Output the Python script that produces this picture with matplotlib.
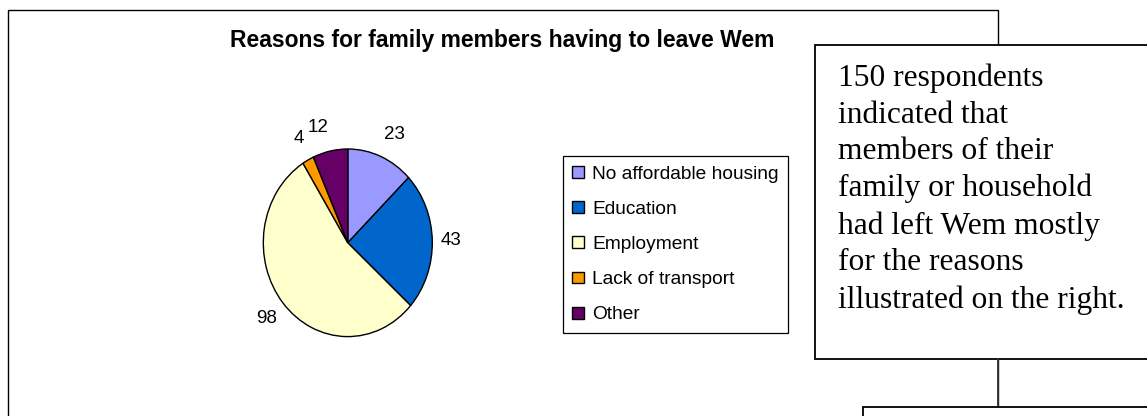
import numpy as np
import matplotlib
matplotlib.use("Agg")
import matplotlib.pyplot as plt
from matplotlib.patches import Rectangle
from matplotlib.lines import Line2D

# data
reasons = ["No affordable housing", "Education", "Employment", "Lack of transport", "Other"]
counts = [23, 43, 98, 4, 12]
colours = ["#9999FF", "#0066CC", "#FFFFCC", "#FF9900", "#660066"]

title = "Reasons for family members having to leave Wem"
note = ("150 respondents\nindicated that\nmembers of their\nfamily or household\n"
        "had left Wem mostly\nfor the reasons\nillustrated on the right.")

W, H = 1147, 416
fig = plt.figure(figsize=(W / 100, H / 100), dpi=100)
fig.patch.set_facecolor("white")

# page layer: boxes of the document, in pixel units
bg = fig.add_axes([0, 0, 1, 1])
bg.set_xlim(0, W)
bg.set_ylim(H, 0)
bg.axis("off")

# chart frame (bottom runs off the page)
bg.add_patch(Rectangle((7.5, 9.5), 990.5, 430, fill=False, edgecolor="black", lw=1.0, zorder=1))
# text box on the right, drawn over the frame
bg.add_patch(Rectangle((815, 45), 360, 314, facecolor="white", edgecolor="black", lw=1.3, zorder=2))
# connector and the next box below
bg.add_line(Line2D([998, 998], [359, 407], color="#333333", lw=1.3, zorder=2))
bg.add_patch(Rectangle((863, 407), 320, 40, facecolor="white", edgecolor="black", lw=1.3, zorder=2))

bg.text(838.3, 63.5, note, family="Liberation Serif", fontsize=22.7, va="top",
        ha="left", linespacing=1.345, zorder=3)

bg.text(502.5, 46.7, title, family="Liberation Sans", fontweight="bold", fontsize=16.5,
        ha="center", va="baseline", zorder=3)

# pie (elliptical, as in the original)
cx, cy, rx, ry = 347.8, 242.8, 84.5, 93.8
ax = fig.add_axes([(cx - rx) / W, (H - cy - ry) / H, 2 * rx / W, 2 * ry / H])
wedges, _ = ax.pie(counts, colors=colours, startangle=90, counterclock=False,
                   wedgeprops=dict(edgecolor="black", linewidth=1.0))
ax.set_aspect("auto")
ax.set_xlim(-1, 1)
ax.set_ylim(-1, 1)

for w, n in zip(wedges, counts):
    ang = np.deg2rad((w.theta1 + w.theta2) / 2)
    x, y = 1.1 * np.cos(ang), 1.26 * np.sin(ang)
    ax.text(x, y, str(n), family="Liberation Sans", fontsize=13.5,
            ha="left" if x > 0 else "right", va="center")

leg = ax.legend(wedges, reasons, loc="upper left",
                bbox_to_anchor=(562.7 / W, 1 - 156 / H), bbox_transform=fig.transFigure,
                prop=dict(family="Liberation Sans", size=13.8), frameon=True, fancybox=False,
                framealpha=1, borderpad=0.5, labelspacing=0.95, handlelength=0.62,
                handleheight=0.57, handletextpad=0.42, borderaxespad=0)
leg.get_frame().set_edgecolor("black")
leg.get_frame().set_linewidth(0.9)

fig.savefig("out.png", dpi=100)
